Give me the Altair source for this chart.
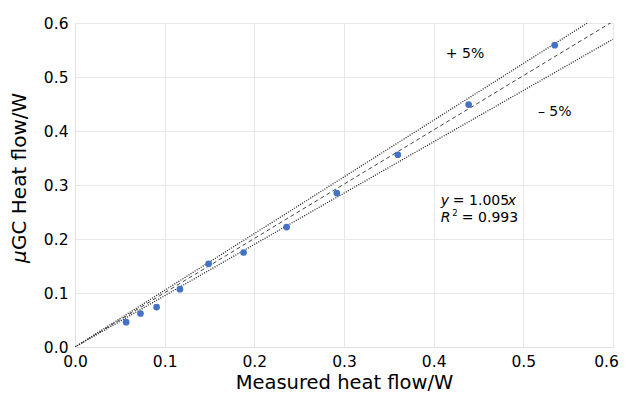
import altair as alt
import pandas as pd

# measured data points
measured = [0.057, 0.073, 0.091, 0.117, 0.149, 0.188, 0.236, 0.292, 0.360, 0.439, 0.535]
ugc = [0.046, 0.062, 0.074, 0.107, 0.154, 0.175, 0.222, 0.285, 0.356, 0.449, 0.559]

# reference lines: slope and style
line_names = ["+5%", "fit", "-5%"]
line_slopes = [1.05, 1.005, 0.95]
line_x = [0.0, 0.6]

tick_values = [0, 0.1, 0.2, 0.3, 0.4, 0.5, 0.6]

FONT = "DejaVu Sans"

pts = pd.DataFrame({"x": measured, "y": ugc})
rows = []
for n, s in zip(line_names, line_slopes):
    for xv in line_x:
        rows.append({"name": n, "x": xv, "y": s * xv})
lines_df = pd.DataFrame(rows)

xs = alt.Scale(domain=[0, 0.6], nice=False, zero=True)
ys = alt.Scale(domain=[0, 0.6], nice=False, zero=True)

x_axis = alt.Axis(values=tick_values, format=".1f",
                  title="Measured heat flow/W", titleFontSize=19.5, titleFontWeight="normal",
                  titleFont=FONT, titleColor="black", titleY=41, titleBaseline="alphabetic",
                  labelFont=FONT, labelFontSize=15.5, labelColor="black", labelPadding=7,
                  labelOffset=alt.condition("datum.value >= 0.59", alt.value(-7), alt.value(0)),
                  ticks=False, domainColor="#e0e0e0", gridColor="#e8e8e8", labelFlush=False)
y_axis = alt.Axis(values=tick_values, format=".1f", title=None,
                  labelFont=FONT, labelFontSize=15.5, labelColor="black", labelPadding=7,
                  ticks=False, domainColor="#e0e0e0", gridColor="#e8e8e8", labelFlush=False)

base_lines = alt.Chart(lines_df).encode(
    x=alt.X("x:Q", scale=xs, axis=x_axis),
    y=alt.Y("y:Q", scale=ys, axis=y_axis),
    detail="name:N",
)
dotted = base_lines.transform_filter(alt.datum.name != "fit").mark_line(
    color="#222222", strokeWidth=1.3, strokeDash=[1, 1.4], clip=True)
dashed = base_lines.transform_filter(alt.datum.name == "fit").mark_line(
    color="#444444", strokeWidth=1, strokeDash=[4, 3], clip=True)

points = alt.Chart(pts).mark_circle(size=45, color="#4472C4", opacity=1).encode(
    x=alt.X("x:Q", scale=xs), y=alt.Y("y:Q", scale=ys))

def txt(text, x, y, size=14, italic=False, align="left", dx=0, dy=0, baseline="middle"):
    return alt.Chart(pd.DataFrame({"x": [x], "y": [y], "t": [text]})).mark_text(
        font=FONT, fontSize=size, fontStyle="italic" if italic else "normal",
        align=align, baseline=baseline, color="black", dx=dx, dy=dy
    ).encode(x=alt.X("x:Q", scale=xs), y=alt.Y("y:Q", scale=ys), text="t:N")

ann = [
    txt("+ 5%", 0.435, 0.542, align="center"),
    txt("\u2013 5%", 0.535, 0.435, align="center"),
    txt("y", 0.408, 0.270, italic=True),
    txt("= 1.005", 0.408, 0.270, dx=12),
    txt("x", 0.408, 0.270, italic=True, dx=67),
    txt("R", 0.408, 0.238, italic=True),
    txt("2", 0.408, 0.238, size=8.5, dx=11.5, dy=-5),
    txt("= 0.993", 0.408, 0.238, dx=21),
]

# rotated y-axis title with italic mu
ytitle_mu = alt.Chart(pd.DataFrame({"t": ["\u03bc"]})).mark_text(
    font=FONT, fontSize=20, fontStyle="italic", angle=270, align="left", baseline="middle", color="black"
).encode(x=alt.value(-55), y=alt.value(240), text="t:N")
ytitle_rest = alt.Chart(pd.DataFrame({"t": ["GC Heat flow/W"]})).mark_text(
    font=FONT, fontSize=20, angle=270, align="left", baseline="middle", color="black"
).encode(x=alt.value(-55), y=alt.value(227), text="t:N")

chart = alt.layer(dotted, dashed, points, *ann, ytitle_mu, ytitle_rest).properties(
    width=538, height=324,
    autosize=alt.AutoSizeParams(type="none"),
    padding={"left": 67, "top": 15, "right": 6, "bottom": 47},
).configure_view(stroke=None).configure(background="white")

chart.save("out.html", embed_options={"renderer": "svg", "actions": False})
